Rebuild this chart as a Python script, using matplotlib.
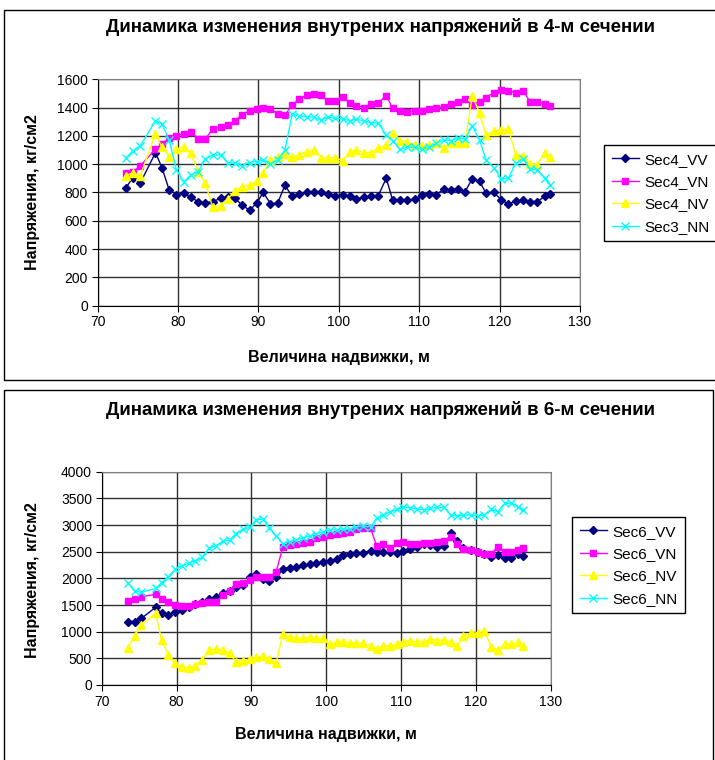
import matplotlib
matplotlib.use('Agg')
import matplotlib.pyplot as plt
from matplotlib.patches import Rectangle

# величина надвижки, м (общая для обоих сечений)
nadv = [73.5, 74.4, 75.3, 77.2, 78.0, 78.9, 79.8, 80.7, 81.6, 82.5,
        83.4, 84.3, 85.3, 86.2, 87.1, 87.9, 88.9, 89.8, 90.6, 91.5,
        92.4, 93.3, 94.2, 95.1, 96.0, 96.9, 97.8, 98.6, 99.5, 100.5,
        101.4, 102.2, 103.1, 104.0, 104.9, 105.9, 106.7, 107.6, 108.5, 109.5,
        110.3, 111.2, 112.1, 113.1, 113.9, 114.8, 115.7, 116.6, 117.5, 118.3,
        119.3, 120.2, 121.1, 122.0, 122.9, 123.8, 124.7, 125.6, 126.3]

# сечение 4
sec4_vv = [831, 906, 866, 1082, 976, 819, 784, 795, 765, 736,
           725, 736, 758, 767, 760, 713, 675, 725, 802, 720,
           725, 852, 772, 791, 802, 802, 802, 791, 776, 784,
           772, 753, 767, 772, 776, 901, 746, 746, 746, 753,
           784, 788, 784, 826, 819, 824, 807, 896, 882, 795,
           800, 748, 718, 741, 744, 736, 736, 772, 791]
sec4_vn = [936, 948, 988, 1106, 1141, 1184, 1200, 1214, 1231, 1179,
           1179, 1247, 1266, 1275, 1306, 1348, 1379, 1388, 1400, 1391,
           1355, 1348, 1416, 1464, 1487, 1494, 1492, 1445, 1445, 1478,
           1431, 1414, 1400, 1424, 1431, 1485, 1395, 1379, 1372, 1379,
           1379, 1393, 1400, 1407, 1424, 1442, 1461, 1419, 1442, 1471,
           1506, 1525, 1520, 1506, 1520, 1442, 1442, 1424, 1414]
sec4_nv = [918, 941, 918, 1214, 1120, 1054, 1106, 1124, 1077, 947,
           865, 700, 708, 755, 810, 842, 854, 878, 941, 1031,
           1054, 1071, 1049, 1066, 1089, 1101, 1047, 1043, 1047, 1026,
           1089, 1101, 1082, 1082, 1113, 1136, 1224, 1167, 1160, 1136,
           1129, 1136, 1153, 1118, 1148, 1153, 1153, 1482, 1365, 1207,
           1235, 1242, 1249, 1066, 1061, 1000, 995, 1078, 1054]
sec3_nn = [1042, 1096, 1129, 1306, 1285, 1172, 960, 873, 925, 945,
           1036, 1065, 1066, 1012, 1007, 988, 1012, 1019, 1031, 1002,
           1031, 1101, 1353, 1341, 1336, 1332, 1313, 1332, 1325, 1318,
           1308, 1318, 1306, 1294, 1289, 1207, 1167, 1106, 1120, 1120,
           1106, 1120, 1148, 1172, 1167, 1184, 1179, 1271, 1172, 1031,
           976, 896, 901, 1007, 1038, 965, 960, 901, 854]

# сечение 6
sec6_vv = [1175, 1188, 1250, 1456, 1344, 1313, 1363, 1406, 1469, 1519,
           1563, 1606, 1656, 1725, 1770, 1840, 1875, 2019, 2075, 1981,
           1950, 2019, 2169, 2200, 2219, 2250, 2263, 2281, 2300, 2330,
           2365, 2430, 2456, 2469, 2481, 2519, 2500, 2500, 2494, 2481,
           2519, 2544, 2581, 2644, 2625, 2594, 2606, 2844, 2706, 2563,
           2531, 2488, 2456, 2394, 2438, 2375, 2375, 2456, 2419]
sec6_vn = [1575, 1613, 1656, 1700, 1606, 1550, 1500, 1481, 1481, 1519,
           1544, 1563, 1563, 1688, 1769, 1890, 1919, 1969, 2019, 2019,
           2019, 2125, 2594, 2625, 2644, 2669, 2688, 2750, 2781, 2813,
           2831, 2850, 2875, 2919, 2938, 2938, 2613, 2638, 2575, 2656,
           2688, 2644, 2644, 2656, 2669, 2688, 2706, 2769, 2644, 2550,
           2531, 2488, 2456, 2456, 2594, 2494, 2494, 2531, 2563]
sec6_nv = [700, 919, 1125, 1344, 844, 563, 406, 344, 325, 365,
           478, 656, 675, 656, 594, 438, 456, 488, 519, 544,
           488, 419, 956, 906, 875, 875, 894, 875, 875, 769,
           813, 813, 794, 781, 781, 738, 675, 738, 738, 763,
           813, 831, 806, 813, 863, 831, 844, 806, 731, 925,
           969, 981, 1019, 719, 656, 763, 763, 800, 738]
sec6_nn = [1910, 1760, 1740, 1810, 1920, 2031, 2169, 2238, 2281, 2331,
           2394, 2563, 2613, 2700, 2719, 2840, 2925, 2956, 3100, 3110,
           2950, 2794, 2650, 2690, 2720, 2760, 2790, 2830, 2870, 2910,
           2906, 2930, 2919, 2969, 2981, 2969, 3125, 3188, 3250, 3294,
           3331, 3325, 3300, 3288, 3313, 3331, 3331, 3188, 3175, 3188,
           3188, 3175, 3188, 3294, 3250, 3406, 3406, 3344, 3288]

labels4 = ['Sec4_VV', 'Sec4_VN', 'Sec4_NV', 'Sec3_NN']
labels6 = ['Sec6_VV', 'Sec6_VN', 'Sec6_NV', 'Sec6_NN']
title4 = 'Динамика изменения внутрених напряжений в 4-м сечении'
title6 = 'Динамика изменения внутрених напряжений в 6-м сечении'
ylab = 'Напряжения, кг/см2'
xlab = 'Величина надвижки, м'

plt.rcParams['font.family'] = ['Liberation Sans', 'DejaVu Sans']

W, H = 715, 760
fig = plt.figure(figsize=(W / 100, H / 100), dpi=100)

# стиль серий как в Excel
styles = [dict(color='#000080', marker='D', ms=4.5),
          dict(color='#FF00FF', marker='s', ms=5),
          dict(color='#FFFF00', marker='^', ms=6),
          dict(color='#00FFFF', marker='x', ms=6, mew=1.0)]


def box(px):
    # px = (left, top, right, bottom) в пикселях картинки
    l, t, r, b = px
    return [l / W, 1 - b / H, (r - l) / W, (b - t) / H]


def chart(rect, series, labels, ymax, ystep, leg_xy):
    ax = fig.add_axes(box(rect))
    for ys, lab, st in zip(series, labels, styles):
        ax.plot(nadv, ys, lw=1, label=lab, **st)
    ax.set_xlim(70, 130)
    ax.set_ylim(0, ymax)
    ax.set_xticks(range(70, 131, 10))
    ax.set_yticks(range(0, ymax + 1, ystep))
    ax.grid(True, color='#303030', lw=1)
    ax.set_axisbelow(True)
    for s in ax.spines.values():
        s.set_color('#808080')
    ax.spines['left'].set_color('black')
    ax.spines['bottom'].set_color('black')
    ax.tick_params(labelsize=10, length=4, direction='out', pad=3)
    leg = ax.legend(loc='upper left', bbox_to_anchor=(leg_xy[0] / W, 1 - leg_xy[1] / H),
                    bbox_transform=fig.transFigure, fontsize=11, fancybox=False,
                    framealpha=1, edgecolor='black', handlelength=1.8,
                    labelspacing=0.55, borderpad=0.5, handletextpad=0.35,
                    borderaxespad=0)
    leg.get_frame().set_linewidth(1)
    return ax


# рамки областей диаграмм
fig.patches.append(Rectangle((4 / W, 1 - 380 / H), 740 / W, 370 / H, transform=fig.transFigure,
                             fill=False, edgecolor='black', lw=1))
fig.patches.append(Rectangle((4 / W, -10 / H), 709 / W, (770 - 390) / H, transform=fig.transFigure,
                             fill=False, edgecolor='black', lw=1))

chart((97.6, 79.3, 580, 305.7), [sec4_vv, sec4_vn, sec4_nv, sec3_nn], labels4, 1600, 200, (604, 145))
chart((101.7, 471.7, 551, 685), [sec6_vv, sec6_vn, sec6_nv, sec6_nn], labels6, 4000, 500, (572, 517))

fig.text(381 / W, 1 - 27 / H, title4, ha='center', va='center', fontsize=13.5, fontweight='bold')
fig.text(381 / W, 1 - 410 / H, title6, ha='center', va='center', fontsize=13.5, fontweight='bold')
fig.text(33 / W, 1 - 192 / H, ylab, ha='center', va='center', rotation=90, fontsize=11.5, fontweight='bold')
fig.text(33 / W, 1 - 580 / H, ylab, ha='center', va='center', rotation=90, fontsize=11.5, fontweight='bold')
fig.text(339 / W, 1 - 357 / H, xlab, ha='center', va='center', fontsize=11.5, fontweight='bold')
fig.text(326 / W, 1 - 735 / H, xlab, ha='center', va='center', fontsize=11.5, fontweight='bold')

fig.savefig('out.png', dpi=100)
